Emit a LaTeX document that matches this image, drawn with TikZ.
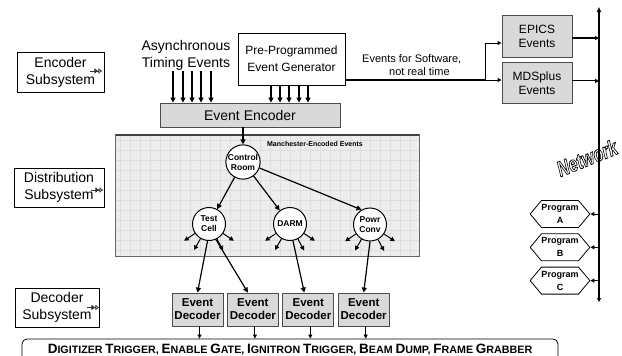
\documentclass[tikz,border=0pt]{standalone}
\usepackage{fontspec}
\setmainfont{Liberation Sans}
\usepackage{tikz}
\usetikzlibrary{arrows.meta, positioning, shapes.symbols}

\newcommand{\fsz}[2]{\fontsize{#1}{#2}\selectfont}
\newcommand{\capword}[2]{{\fsz{13.5}{15}#1}{\fsz{10.7}{15}#2}}
\newcommand{\outlined}[1]{\special{pdf:literal direct 1 Tr 0.6 w}#1\special{pdf:literal direct 0 Tr}}

\begin{document}
\begin{tikzpicture}[
    x=1pt, y=1pt,
    node distance=5pt,
    subbox/.style={rectangle, draw, line width=0.8pt, fill=white, align=center, font=\fsz{14}{17}, inner sep=1pt},
    graybox/.style={rectangle, draw=black!70, line width=0.9pt, fill=black!15, align=center, font=\fsz{12}{14}, inner sep=1pt},
    decbox/.style={graybox, minimum width=51pt, minimum height=33pt, font=\bfseries\fsz{11.5}{13}},
    ring/.style={circle, draw, line width=1pt, fill=white, minimum size=33pt, inner sep=0pt, align=center, font=\bfseries\fsz{8.5}{10}},
    prog/.style={signal, signal to=west and east, signal pointer angle=100, draw, line width=0.8pt, fill=white, minimum width=52pt, minimum height=27pt, inner sep=0pt, align=center, font=\bfseries\fsz{9}{13}},
    panel/.style={rectangle, fill=black!7, minimum width=303pt, minimum height=121pt},
    arrow/.style={-{Triangle[length=5pt,width=5pt]}, line width=1.2pt},
    fanarrow/.style={-{Triangle[length=4.5pt,width=4.5pt]}, line width=1pt},
    smallarrow/.style={-{Triangle[length=4pt,width=4pt]}, line width=0.9pt},
    tiparrow/.style={-{Triangle[open,length=4pt,width=4pt]}, line width=1pt},
    marker/.style={-{Latex[length=4pt,width=6pt] Latex[open,length=4pt,width=6pt]}, line width=1pt, black!80}
]
    \useasboundingbox (0,0) rectangle (622,-356);

    % subsystem labels on the left
    \node[subbox, minimum width=87pt, minimum height=40pt] (encsub) at (60.5,-72) {Encoder\\Subsystem};
    \node[subbox, minimum width=90pt, minimum height=39pt] (distsub) at (59,-187.5) {Distribution\\Subsystem};
    \node[subbox, minimum width=84pt, minimum height=39pt] (decsub) at (57,-307.5) {Decoder\\Subsystem};
    \draw[marker] ([xshift=-14pt,yshift=1pt]encsub.east) -- ++(12,0);
    \draw[marker] ([xshift=-13pt,yshift=-2.5pt]distsub.east) -- ++(12,0);
    \draw[marker] ([xshift=-12pt]decsub.east) -- ++(12,0);

    % encoder part
    \node[align=center, font=\fsz{14}{17}, inner sep=1pt] (async) at (186,-55) {Asynchronous\\Timing Events};
    \node[subbox, font=\fsz{12}{17}, minimum width=107pt, minimum height=52pt] (gen) at (291.5,-59) {Pre-Programmed\\Event Generator};
    \node[graybox, font=\fsz{14}{17}, minimum width=180pt, minimum height=24pt] (enc) at (250,-115) {Event Encoder};

    \foreach \x in {173,183,192,201,211}
        \draw[arrow] (async.south -| \x,0) -- (enc.north -| \x,0);
    \foreach \x in {271,280,289,299,308}
        \draw[arrow] (gen.south -| \x,0) -- (enc.north -| \x,0);

    % distribution part
    \node[panel] (dist) at (267.5,-195.5) {};
    \draw[black!13, step=10pt] (dist.south west) grid (dist.north east);
    \draw[black!60, line width=1pt] (dist.south west) rectangle (dist.north east);
    \draw[black!75, line width=1.6pt] (dist.north west) -- (dist.north east);
    \node[font=\bfseries\fsz{7}{8}] (mlabel) at (315,-144) {Manchester-Encoded Events};

    \node[ring] (ctrl) at (243,-162) {Control\\Room};
    \node[ring] (test) at (209,-224) {Test\\Cell};
    \node[ring] (darm) at (290,-224) {DARM};
    \node[ring] (powr) at (370,-224.5) {Powr\\Conv};

    \draw[arrow] (enc.south -| ctrl) -- (ctrl);
    \draw[arrow] (ctrl) -- (test);
    \draw[arrow] (ctrl) -- (darm);
    \draw[arrow] (ctrl.-20) -- (powr.120);
    \foreach \c in {test,darm,powr}
        \foreach \a in {-146,-120,-62,-34}
            \draw[fanarrow] (\c.\a) -- ++(\a:13);

    % decoder part
    \node[decbox] (dec1) at (197.5,-309.5) {Event\\Decoder};
    \node[decbox, right=3.5pt of dec1] (dec2) {Event\\Decoder};
    \node[decbox, right=3.5pt of dec2] (dec3) {Event\\Decoder};
    \node[decbox, right=3.5pt of dec3] (dec4) {Event\\Decoder};

    \draw[arrow] (test.-95) -- (dec1.north);
    \draw[arrow] (test.-66) -- ([xshift=-5pt]dec2.north);
    \draw[arrow] (darm.-80) -- ([xshift=-4pt]dec3.north);
    \draw[arrow] (powr.-90) -- (dec4.north);

    \node[draw, line width=0.8pt, rounded corners=5pt, fill=white, minimum width=536pt, minimum height=22pt, font=\bfseries] (bar) at (290,-350)
        {\capword{D}{IGITIZER} \capword{T}{RIGGER,} \capword{E}{NABLE} \capword{G}{ATE,} \capword{I}{GNITRON} \capword{T}{RIGGER,} \capword{B}{EAM} \capword{D}{UMP,} \capword{F}{RAME} \capword{G}{RABBER}};
    \foreach \d in {dec1,dec2,dec3,dec4}
        \draw[smallarrow] ([xshift=2pt]\d.south) -- ([xshift=2pt]\d.south |- bar.north);

    % software events and network
    \node[graybox, minimum width=70pt, minimum height=42pt] (epics) at (537,-36) {EPICS\\Events};
    \node[graybox, minimum width=70pt, minimum height=41pt, below=5pt of epics] (mds) {MDSplus\\Events};
    \node[align=left, font=\fsz{11}{13}, inner sep=0pt, anchor=west] (swnote) at (362,-65) {Events for Software,\\\hspace*{27pt}not real time};

    \coordinate (split) at (485,-80);
    \draw[line width=1.2pt] (gen.east |- split) -- (split);
    \draw[tiparrow] (split) -- (mds.west |- split);
    \draw[tiparrow] (split) |- ([yshift=-7pt]epics.west);

    \coordinate (nettop) at (599,-7);
    \coordinate (netbot) at (599,-302);
    \draw[{Triangle[open,length=4pt,width=4pt]}-{Triangle[length=5pt,width=4pt]}, line width=1.2pt] (netbot) -- (nettop);
    \draw[tiparrow, line width=2pt] ([yshift=-2pt]epics.east) -- ([yshift=-2pt]epics.east -| nettop);
    \draw[tiparrow] ([yshift=2.5pt]mds.east) -- ([yshift=2.5pt]mds.east -| nettop);

    \node[rotate=22, yscale=1.35, inner sep=0.5pt, font=\bfseries\itshape\fsz{16}{16}] (netlabel) at (587,-158) {\outlined{Network}};

    \node[prog] (proga) at (560,-214) {Program\\A};
    \node[prog, below=5.5pt of proga] (progb) {Program\\B};
    \node[prog, below=5.5pt of progb] (progc) {Program\\C};
    \foreach \p in {proga,progb,progc}
        \draw[tiparrow] (\p.east -| nettop) -- (\p.east);
\end{tikzpicture}
\end{document}
